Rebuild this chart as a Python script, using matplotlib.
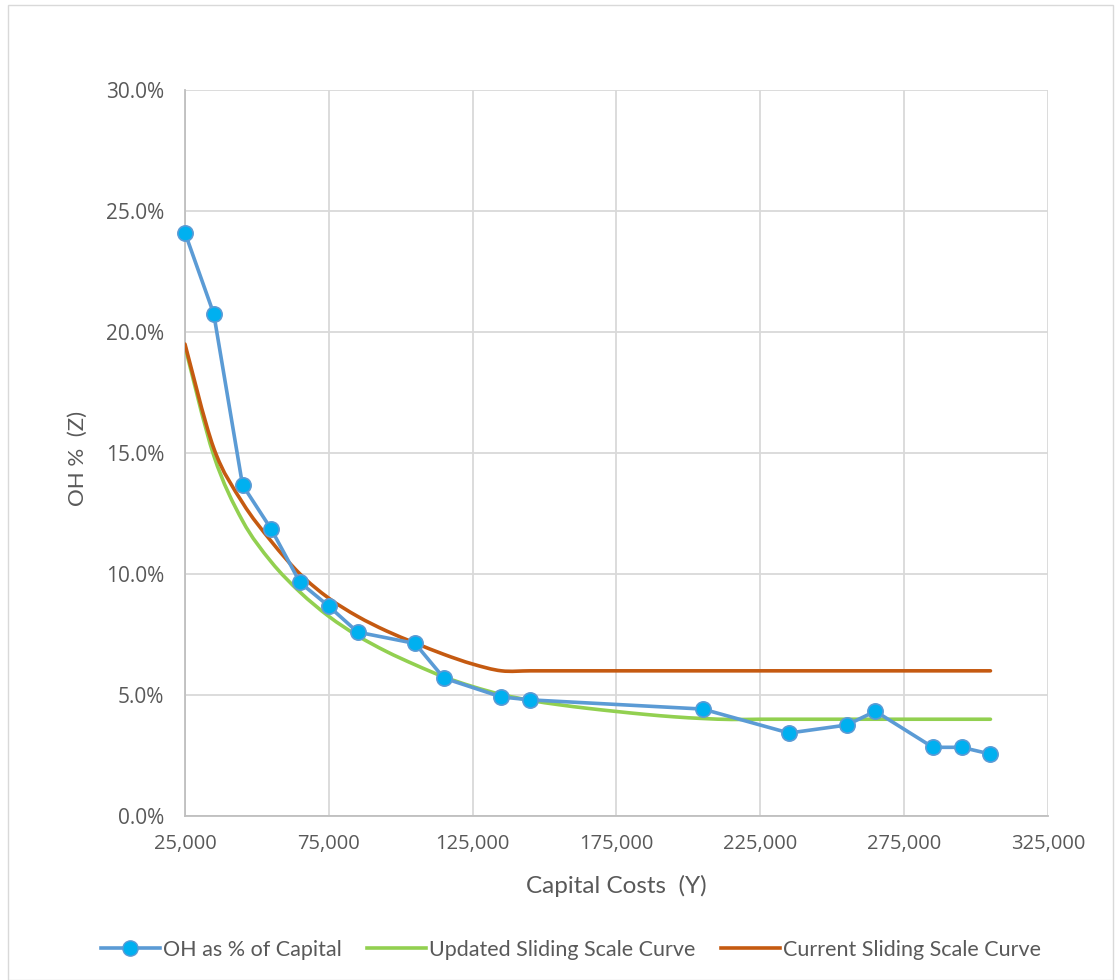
import numpy as np
import matplotlib
matplotlib.use("Agg")
import matplotlib.pyplot as plt
from matplotlib.path import Path
from matplotlib.patches import PathPatch, Rectangle
from matplotlib.ticker import FuncFormatter, MultipleLocator

# Observed overhead as a share of capital cost
capital = [25000, 35000, 45000, 55000, 65000, 75000, 85000, 105000, 115000,
           135000, 145000, 205000, 235000, 255000, 265000, 285000, 295000, 305000]
oh_pct = [24.1, 20.75, 13.68, 11.85, 9.65, 8.67, 7.6, 7.13, 5.7,
          4.92, 4.8, 4.42, 3.43, 3.76, 4.33, 2.84, 2.84, 2.56]

# Sliding scale curves, sampled every 10,000
curve_x = [25000, 35000, 45000, 55000, 65000, 75000, 85000, 95000, 105000,
           115000, 125000, 135000, 145000, 155000, 165000, 175000, 185000,
           195000, 205000, 215000, 225000, 235000, 245000, 255000, 265000,
           275000, 285000, 295000, 305000]
updated_curve = [19.4, 14.9, 12.2, 10.5, 9.25, 8.25, 7.45, 6.8, 6.25,
                 5.75, 5.35, 5.02, 4.78, 4.6, 4.45, 4.32, 4.2, 4.1, 4.03,
                 3.99, 4.0, 4.0, 4.0, 4.0, 4.0, 4.0, 4.0, 4.0, 4.0]
current_curve = [19.5, 15.2, 12.95, 11.35, 10.0, 9.0, 8.25, 7.65, 7.15,
                 6.68, 6.28, 6.0, 6.0, 6.0, 6.0, 6.0, 6.0, 6.0, 6.0,
                 6.0, 6.0, 6.0, 6.0, 6.0, 6.0, 6.0, 6.0, 6.0, 6.0]

x_ticks = [25000, 75000, 125000, 175000, 225000, 275000, 325000]

BLUE_LINE = "#5B9BD5"
BLUE_FACE = "#00B0F0"
GREEN = "#92D050"
ORANGE = "#C55A11"
GRID = "#D9D9D9"
TEXT = "#595959"
TICK_FONT = "Open Sans"
LABEL_FONT = "Lato"


def smooth_path(xs, ys, tension=1 / 6):
    """Catmull-Rom style cubic Bezier path through the given points."""
    xs = np.asarray(xs, float)
    ys = np.asarray(ys, float)
    verts = [(xs[0], ys[0])]
    codes = [Path.MOVETO]
    n = len(xs)
    for i in range(n - 1):
        p0 = i - 1 if i > 0 else i
        p3 = i + 2 if i + 2 < n else i + 1
        c1 = (xs[i] + (xs[i + 1] - xs[p0]) * tension,
              ys[i] + (ys[i + 1] - ys[p0]) * tension)
        c2 = (xs[i + 1] - (xs[p3] - xs[i]) * tension,
              ys[i + 1] - (ys[p3] - ys[i]) * tension)
        verts += [c1, c2, (xs[i + 1], ys[i + 1])]
        codes += [Path.CURVE4] * 3
    return Path(verts, codes)


fig = plt.figure(figsize=(11.15, 9.8), dpi=100)
ax = fig.add_axes([0.1659, 0.1673, 0.7740, 0.7409])

ax.set_xlim(25000, 325000)
ax.set_ylim(0, 30)

ax.yaxis.set_major_locator(MultipleLocator(5))
ax.set_xticks(x_ticks)
ax.xaxis.set_major_formatter(FuncFormatter(lambda v, p: f"{v:,.0f}"))
ax.yaxis.set_major_formatter(FuncFormatter(lambda v, p: f"{v:.1f}%"))

ax.grid(True, color=GRID, linewidth=1.3)
ax.set_axisbelow(True)
for side in ("top", "right"):
    ax.spines[side].set_visible(False)
for side in ("left", "bottom"):
    ax.spines[side].set_color("#BFBFBF")
    ax.spines[side].set_linewidth(1.3)
ax.tick_params(length=0, colors=TEXT)
ax.tick_params(axis="y", pad=15)
ax.tick_params(axis="x", pad=13)
for lbl in ax.get_yticklabels():
    lbl.set_fontfamily(TICK_FONT)
    lbl.set_fontsize(15)
for lbl in ax.get_xticklabels():
    lbl.set_fontfamily(TICK_FONT)
    lbl.set_fontsize(14.5)

ax.add_patch(PathPatch(smooth_path(curve_x, updated_curve), facecolor="none",
                       edgecolor=GREEN, linewidth=2.6, capstyle="round", zorder=3))
ax.add_patch(PathPatch(smooth_path(curve_x, current_curve), facecolor="none",
                       edgecolor=ORANGE, linewidth=2.6, capstyle="round", zorder=3))
ax.plot(capital, oh_pct, color=BLUE_LINE, linewidth=2.6, marker="o",
        markersize=11, markerfacecolor=BLUE_FACE, markeredgecolor=BLUE_LINE,
        markeredgewidth=1.2, zorder=4, clip_on=False)

ax.set_xlabel("Capital Costs  (Y)", fontsize=17.5, color=TEXT,
              family=LABEL_FONT, va="center")
ax.xaxis.set_label_coords(0.5, -0.0964)
ax.set_ylabel("OH %  (Z)", fontsize=16, color=TEXT, family=LABEL_FONT,
              va="center")
ax.yaxis.set_label_coords(-0.124, 0.493)

handles = [
    plt.Line2D([], [], color=BLUE_LINE, linewidth=2.6, marker="o",
               markersize=11, markerfacecolor=BLUE_FACE,
               markeredgecolor=BLUE_LINE),
    plt.Line2D([], [], color=GREEN, linewidth=2.6),
    plt.Line2D([], [], color=ORANGE, linewidth=2.6),
]
labels = ["OH as % of Capital", "Updated Sliding Scale Curve",
          "Current Sliding Scale Curve"]
fig.legend(handles, labels, loc="center", bbox_to_anchor=(0.512, 0.031),
           ncol=3, frameon=False, handlelength=2.75, handletextpad=0.12,
           columnspacing=1.2, prop={"family": LABEL_FONT, "size": 15.5},
           labelcolor=TEXT)

fig.patches.append(Rectangle((0.007, 0.0), 0.991, 0.995, transform=fig.transFigure,
                             fill=False, edgecolor="#D9D9D9", linewidth=1.0))

fig.savefig("out.png", dpi=100, facecolor="white")
